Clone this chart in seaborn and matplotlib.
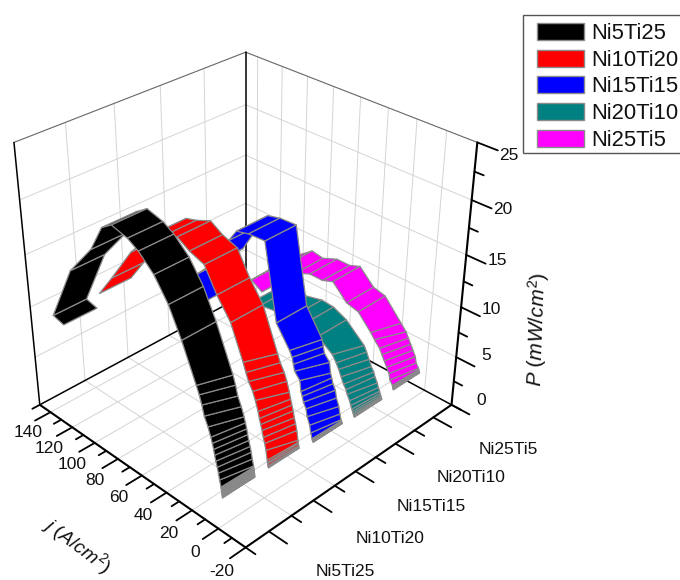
import matplotlib
matplotlib.use("Agg")
import matplotlib.pyplot as plt
import seaborn as sns
from matplotlib.patches import Patch, Rectangle
from mpl_toolkits.mplot3d import proj3d
from mpl_toolkits.mplot3d.art3d import Poly3DCollection

names = ["Ni5Ti25", "Ni10Ti20", "Ni15Ti15", "Ni20Ti10", "Ni25Ti5"]
colors = ["#000000", "#ff0000", "#0000ff", "#008080", "#ff00ff"]

# current density (A/cm2) and power (mW/cm2)
j_ni5 = [2.0, 2.1, 2.2, 2.3, 2.4, 2.5, 2.6, 2.7, 2.8, 2.9, 3.0, 4.0, 4.8, 5.6, 6.6, 7.4, 8.1, 9.0, 10, 12, 14.6, 16.2, 18, 20, 30, 39, 49, 60, 68, 80, 88, 98, 117, 136, 127]
p_ni5 = [2.4, 2.5, 2.6, 2.7, 2.8, 2.9, 3.0, 3.1, 3.2, 3.3, 3.4, 4.0, 4.6, 5.1, 5.6, 6.1, 6.6, 7.1, 7.6, 8.4, 9.2, 10.1, 10.9, 11.6, 14.9, 17.4, 19.3, 20.6, 21.2, 21.6, 20.9, 18.4, 15.3, 9.8, 9.5]
j_ni10 = [2.0, 2.2, 2.4, 2.6, 2.8, 3.0, 4.0, 5.0, 6.0, 7.0, 8.0, 9.0, 10, 12, 14, 17, 19, 21, 30, 40, 49, 60, 69, 80, 88, 107, 125, 137]
p_ni10 = [2.4, 2.5, 2.6, 2.8, 2.9, 3.1, 4.0, 4.6, 5.1, 5.7, 6.2, 6.7, 7.3, 8.2, 8.9, 9.6, 10.3, 11.1, 14.1, 15.9, 18.0, 18.5, 19.2, 18.6, 18.3, 15.5, 11.9, 9.6]
j_ni15 = [1.0, 1.2, 1.4, 1.6, 1.8, 2.0, 3.0, 4.0, 6.0, 7.0, 9.0, 10, 11, 12, 16, 17, 18, 20, 30, 39, 51, 60, 66, 79, 92, 83]
p_ni15 = [2.2, 2.25, 2.3, 2.35, 2.4, 2.5, 3.0, 3.7, 4.4, 5.1, 5.6, 6.1, 6.5, 7.5, 8.1, 8.7, 9.3, 9.8, 11.7, 18.6, 18.5, 18.2, 17.0, 14.0, 12.2, 10.3]
j_ni20 = [1.0, 1.3, 1.6, 2.0, 2.5, 3.0, 4.0, 5.0, 7.0, 8.0, 10, 12, 14, 16, 19, 30, 40, 49, 61, 75, 90]
p_ni20 = [2.0, 2.1, 2.2, 2.35, 2.5, 2.7, 3.0, 3.4, 3.9, 4.3, 4.7, 5.3, 5.9, 6.4, 7.0, 8.0, 8.6, 8.7, 8.3, 8.0, 6.8]
j_ni25 = [1.0, 1.2, 1.4, 1.6, 1.8, 2.0, 4.0, 5.0, 7.0, 9.0, 11, 13, 17, 20, 30, 39, 50, 58, 68, 79, 88, 102, 116, 107]
p_ni25 = [2.2, 2.25, 2.3, 2.4, 2.5, 2.6, 3.0, 3.6, 4.1, 4.6, 5.1, 5.6, 6.2, 6.7, 8.1, 8.4, 9.8, 9.4, 9.4, 8.8, 9.0, 7.6, 5.7, 5.0]
j_series = [j_ni5, j_ni10, j_ni15, j_ni20, j_ni25]
p_series = [p_ni5, p_ni10, p_ni15, p_ni20, p_ni25]

j_ticks = [-20, 0, 20, 40, 60, 80, 100, 120, 140]
p_ticks = [0, 5, 10, 15, 20, 25]

sns.set_theme(style="white")
plt.rcParams["font.family"] = ["Liberation Sans", "DejaVu Sans"]
plt.rcParams["mathtext.fontset"] = "custom"
plt.rcParams["mathtext.it"] = "Liberation Sans:italic"
plt.rcParams["mathtext.rm"] = "Liberation Sans"
palette = sns.color_palette(colors)

fig = plt.figure(figsize=(6.8, 5.8), dpi=100)
ax = fig.add_axes([(237 - 320) / 680, (290 - 320) / 580, 640 / 680, 640 / 580], projection="3d")
ax.set_proj_type("persp", focal_length=0.40)
ax.view_init(elev=32, azim=-135)
ax.set_box_aspect((1, 1, 1.0), zoom=0.81)
ax.computed_zorder = False
x0, x1, y0, y1, z0, z1 = 0.5, 5.5, -20, 150, 0, 25
ax.set_xlim(x0, x1, view_margin=0)
ax.set_ylim(y0, y1, view_margin=0)
ax.set_zlim(z0, z1, view_margin=0)
ax.set_axis_off()
proj = ax.get_proj()


def line(xs, ys, zs, color="#000000", lw=1.1, zorder=1):
    ax.plot(xs, ys, zs, color=color, lw=lw, zorder=zorder, solid_capstyle="round")


def label(x, y, z, s):
    # plain 2D text at the projected spot, so it keeps a real bounding box
    u, v, _ = proj3d.proj_transform(x, y, z, proj)
    ax.text2D(u, v, s, transform=ax.transData, fontsize=12.5, color="#111111", ha="center", va="center")


# walls and floor
grid = dict(color="#d4d4d4", lw=0.7)
for x in [1.5, 2.5, 3.5, 4.5]:
    line([x, x], [y0, y1], [z0, z0], **grid)
    line([x, x], [y1, y1], [z0, z1], **grid)
for y in j_ticks[1:]:
    line([x0, x1], [y, y], [z0, z0], **grid)
    line([x1, x1], [y, y], [z0, z1], **grid)
for z in p_ticks[1:-1]:
    line([x0, x1], [y1, y1], [z, z], **grid)
    line([x1, x1], [y0, y1], [z, z], **grid)
line([x0, x1], [y1, y1], [z1, z1], color="#666666", lw=0.8)
line([x1, x1], [y0, y1], [z1, z1], color="#666666", lw=0.8)
line([x0, x1], [y1, y1], [z0, z0])
line([x1, x1], [y0, y1], [z0, z0])
line([x1, x1], [y1, y1], [z0, z1])
line([x0, x0], [y1, y1], [z0, z1])
line([x0, x1], [y0, y0], [z0, z0], lw=1.5, zorder=9)
line([x0, x0], [y0, y1], [z0, z0], lw=1.5, zorder=9)
line([x1, x1], [y0, y0], [z0, z1], lw=1.5, zorder=9)

# ribbons, back one first
half_width = 0.35
for i in range(4, -1, -1):
    pos = i + 1
    js, ps = j_series[i], p_series[i]
    quads = []
    for k in range(len(js) - 1):
        # the reference's cross lines lean over at low j: far edge lags one point behind
        a = max(k - 1, 0) if js[k] < 22 else k
        b = k if js[k + 1] < 22 else k + 1
        quads.append([(pos - half_width, js[k], ps[k]), (pos + half_width, js[a], ps[a]),
                      (pos + half_width, js[b], ps[b]), (pos - half_width, js[k + 1], ps[k + 1])])
    ax.add_collection3d(Poly3DCollection(quads, facecolor=palette[i], edgecolor="#8a8a8a", linewidths=0.9, zorder=6 - i))

# ticks
for x in [0.5, 1.5, 2.5, 3.5, 4.5, 5.5]:
    line([x, x], [y0, y0 - 7], [z0, z0], lw=1.3, zorder=9)
for pos, name in enumerate(names, start=1):
    line([pos, pos], [y0, y0 - 13], [z0, z0], lw=1.3, zorder=9)
    label(pos + 0.13, y0 - 49, z0 + 0.3, name)
for y in [-10, 10, 30, 50, 70, 90, 110, 130, 150]:
    line([x0, x0 - 0.16], [y, y], [z0, z0], lw=1.3, zorder=9)
for y in j_ticks:
    line([x0, x0 - 0.33], [y, y], [z0, z0], lw=1.3, zorder=9)
    label(x0 - 0.5, y, z0 - 0.8, str(y))
for z in [2.5, 7.5, 12.5, 17.5, 22.5]:
    line([x1, x1], [y0, y0 - 6], [z, z], lw=1.3, zorder=9)
for z in p_ticks:
    line([x1, x1], [y0, y0 - 13], [z, z], lw=1.3, zorder=9)
    label(x1, y0 - 20, z + 2.0 - 0.084 * z, str(z))

fig.text(537 / 680, 1 - 329 / 580, r"$\mathit{P}$ ($\mathit{mW/cm}^{2}$)", rotation=88, fontsize=15, color="#111111", ha="center", va="center")
fig.text(77 / 680, 1 - 545 / 580, r"$\mathit{j}$ ($\mathit{A/cm}^{2}$)", rotation=-37, fontsize=14, color="#111111", ha="center", va="center")

# legend box runs past the right edge like in the reference
fig.add_artist(Rectangle((523 / 680, 1 - 153 / 580), 170 / 680, 138 / 580, transform=fig.transFigure,
                         facecolor="#ffffff", edgecolor="#555555", linewidth=1))
handles = [Patch(facecolor=c, edgecolor="#8a8a8a", linewidth=1, label=n) for c, n in zip(palette, names)]
fig.legend(handles=handles, loc="upper left", bbox_to_anchor=(537 / 680, 1 - 23 / 580), borderaxespad=0, borderpad=0,
           handlelength=2.15, handleheight=0.82, handletextpad=0.32, labelspacing=0.25, fontsize=15.8, frameon=False,
           labelcolor="#111111")

fig.savefig("out.png", dpi=100)
